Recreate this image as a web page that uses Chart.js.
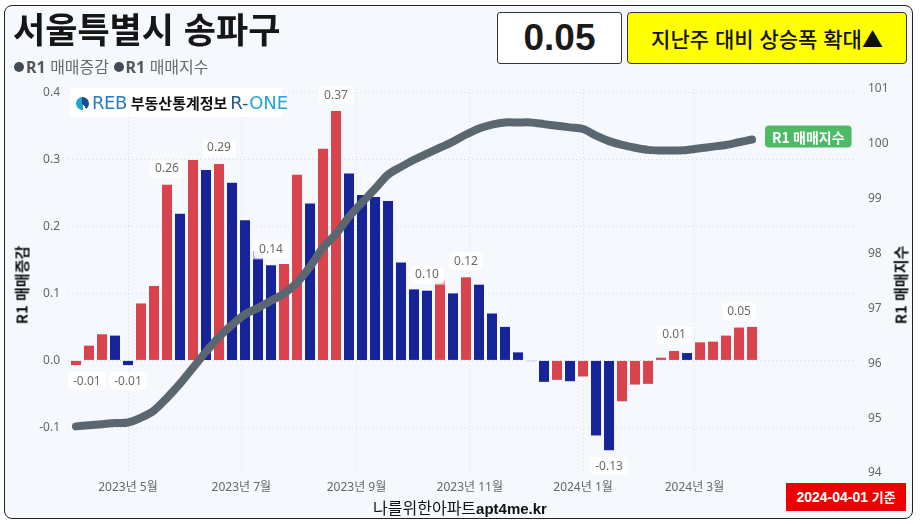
<!DOCTYPE html>
<html lang="ko">
<head>
<meta charset="utf-8">
<title>서울특별시 송파구</title>
<script src="https://cdn.jsdelivr.net/npm/chart.js@4.4.1/dist/chart.umd.min.js"></script>
<style>
  html, body { margin: 0; padding: 0; background: #fff; }
  #wrap { position: relative; width: 920px; height: 524px; overflow: hidden; font-family: 'Noto Sans CJK KR', 'Noto Sans', sans-serif; }
  #card { position: absolute; left: 4px; top: 5px; width: 907px; height: 512px; border: 1px solid #222; border-radius: 8px; background: #f5f8fc; }
  #chart { position: absolute; left: 0; top: 0; }
  .abs { position: absolute; white-space: nowrap; }
  #title { left: 13px; top: 6px; font-size: 35px; font-weight: 700; color: #161616; line-height: 44px; }
  #legend { left: 14px; top: 55px; font-size: 16px; color: #6a6a6a; line-height: 22px; }
  #legend b { font-family: 'Noto Sans', sans-serif; color: #555; }
  .dot { display: inline-block; width: 10px; height: 10px; border-radius: 50%; background: #434c55; margin-right: 2px; vertical-align: 1px; }
  #value { left: 497px; top: 12px; width: 125px; height: 52px; box-sizing: border-box; border: 1px solid #333; border-radius: 3px; background: #fff;
           font-family: 'Liberation Sans', sans-serif; font-weight: 700; font-size: 37px; color: #1a1a1a; text-align: center; line-height: 50px; }
  #note { left: 627px; top: 12px; width: 280px; height: 52px; box-sizing: border-box; border: 1px solid #333; border-radius: 4px; background: #ffff00;
          font-size: 21px; font-weight: 500; color: #111; text-align: center; line-height: 50px; }
  #logo { left: 70px; top: 88px; width: 212px; height: 29px; background: #fff; border-radius: 2px; line-height: 29px; font-size: 15px; }
  #logo .ic { display: inline-block; width: 13px; height: 13px; border-radius: 50%; margin: 0 3px 0 6px; vertical-align: -1px;
              background: conic-gradient(#1b4e86 0 40%, #fff 40% 50%, #1fa2d6 50% 100%); }
  #logo .reb { font-family: 'DejaVu Sans', sans-serif; font-size: 18px; color: #2a7bc2; letter-spacing: -0.5px; }
  #logo .ko { font-weight: 700; color: #111; margin-left: 4px; }
  #logo .one { font-family: 'DejaVu Sans', sans-serif; font-size: 18px; color: #22a5d8; margin-left: 3px; }
  #logo .one span { color: #1d5a92; }
  .ytitle { font-size: 15px; font-weight: 700; color: #111; transform: translate(-50%, -50%) rotate(-90deg); }
  #ytl { left: 21px; top: 285px; }
  #ytr { left: 900px; top: 285px; }
  #credit { left: 460px; top: 507px; transform: translate(-50%, -50%); font-size: 16px; color: #111; }
  #credit b { font-family: 'Liberation Sans Narrow', 'Liberation Sans', sans-serif; font-size: 15px; }
  #date { left: 786px; top: 483px; width: 120px; height: 28px; background: #ee0000; color: #fff; font-weight: 700; font-size: 13px; text-align: center; line-height: 28px; }
  #date b { font-family: 'Liberation Sans Narrow', 'Liberation Sans', sans-serif; font-size: 14px; }
</style>
</head>
<body>
<div id="wrap">
  <div id="card"></div>
  <canvas id="chart" width="920" height="524"></canvas>
  <div class="abs" id="title">서울특별시 송파구</div>
  <div class="abs" id="legend"><span class="dot"></span><b>R1</b> 매매증감 <span class="dot"></span><b>R1</b> 매매지수</div>
  <div class="abs" id="value">0.05</div>
  <div class="abs" id="note">지난주 대비 상승폭 확대▲</div>
  <div class="abs" id="logo"><span class="ic"></span><span class="reb">REB</span><span class="ko">부동산통계정보</span><span class="one"><span>R-</span>ONE</span></div>
  <div class="abs ytitle" id="ytl">R1 매매증감</div>
  <div class="abs ytitle" id="ytr">R1 매매지수</div>
  <div class="abs" id="credit">나를위한아파트<b>apt4me.kr</b></div>
  <div class="abs" id="date"><b>2024-04-01</b> 기준</div>
</div>
<script>
"use strict";

// weekly survey dates (Mon)
var weeks = [
    "2023-04-03", "2023-04-10", "2023-04-17", "2023-04-24", "2023-05-01", "2023-05-08", "2023-05-15", "2023-05-22", "2023-05-29",
    "2023-06-05", "2023-06-12", "2023-06-19", "2023-06-26", "2023-07-03", "2023-07-10", "2023-07-17", "2023-07-24", "2023-07-31",
    "2023-08-07", "2023-08-14", "2023-08-21", "2023-08-28", "2023-09-04", "2023-09-11", "2023-09-18", "2023-09-25", "2023-10-02",
    "2023-10-09", "2023-10-16", "2023-10-23", "2023-10-30", "2023-11-06", "2023-11-13", "2023-11-20", "2023-11-27", "2023-12-04",
    "2023-12-11", "2023-12-18", "2023-12-25", "2024-01-01", "2024-01-08", "2024-01-15", "2024-01-22", "2024-01-29", "2024-02-05",
    "2024-02-12", "2024-02-19", "2024-02-26", "2024-03-04", "2024-03-11", "2024-03-18", "2024-03-25", "2024-04-01"
];

// R1 매매증감 (%)
var weeklyChange = [
    -0.007, 0.022, 0.039, 0.037, -0.007, 0.085, 0.111, 0.262, 0.219, 0.299,
    0.284, 0.293, 0.265, 0.209, 0.151, 0.142, 0.144, 0.277, 0.234, 0.316,
    0.372, 0.279, 0.247, 0.244, 0.238, 0.146, 0.106, 0.104, 0.113, 0.100,
    0.124, 0.113, 0.070, 0.050, 0.012, -0.001, -0.032, -0.029, -0.031, -0.024,
    -0.112, -0.134, -0.061, -0.036, -0.035, 0.004, 0.014, 0.011, 0.027, 0.028,
    0.037, 0.049, 0.050
];

// R1 매매지수
var priceIndex = [
    94.85, 94.87, 94.89, 94.91, 94.92, 95.01, 95.14, 95.37, 95.63, 95.92,
    96.21, 96.48, 96.70, 96.89, 97.01, 97.14, 97.27, 97.47, 97.76, 98.11,
    98.36, 98.67, 98.93, 99.18, 99.44, 99.58, 99.71, 99.82, 99.93, 100.04,
    100.17, 100.28, 100.35, 100.39, 100.39, 100.39, 100.36, 100.33, 100.30, 100.27,
    100.15, 100.05, 99.98, 99.93, 99.89, 99.88, 99.88, 99.89, 99.92, 99.95,
    99.98, 100.03, 100.08
];

// pale caps shown on two bars in the original
var capWeeks = [14, 28];
var capLow = [0.151, 0.113];
var capHigh = [0.163, 0.119];

// weeks that carry a value label
var labelWeeks = [0, 4, 7, 11, 15, 20, 27, 30, 41, 46, 51];

// axis ticks
var monthTickDates = ["2023-05-01", "2023-07-01", "2023-09-01", "2023-11-01", "2024-01-01", "2024-03-01"];
var monthTickLabels = ["2023년 5월", "2023년 7월", "2023년 9월", "2023년 11월", "2024년 1월", "2024년 3월"];
var changeTicks = [-0.1, 0.0, 0.1, 0.2, 0.3, 0.4];

var RED = "#d8434e";
var BLUE = "#172499";
var RED_PALE = "#f0a3aa";
var BLUE_PALE = "#aeb4dc";

function dayOf(d) {
    return (Date.parse(d) - Date.parse(weeks[0])) / 86400000;
}

function isUp(i) {
    return i === 0 || weeklyChange[i] >= weeklyChange[i - 1];
}

var barPoints = weeks.map(function (d, i) { return { x: dayOf(d), y: weeklyChange[i] }; });
var linePoints = weeks.map(function (d, i) { return { x: dayOf(d), y: priceIndex[i] }; });
var capPoints = capWeeks.map(function (w, k) { return { x: dayOf(weeks[w]), y: [capLow[k], capHigh[k]] }; });
// red when the change went up from the week before, blue when it went down
var barColors = weeklyChange.map(function (v, i) { return isUp(i) ? RED : BLUE; });
var capColors = capWeeks.map(function (w) { return isUp(w) ? RED_PALE : BLUE_PALE; });

function roundRect(c, x, y, w, h, r) {
    c.beginPath();
    c.moveTo(x + r, y);
    c.arcTo(x + w, y, x + w, y + h, r);
    c.arcTo(x + w, y + h, x, y + h, r);
    c.arcTo(x, y + h, x, y, r);
    c.arcTo(x, y, x + w, y, r);
    c.closePath();
}

// fixed axis sizes so the plot area lands where the original has it
function fixSize(w, h) {
    return function (s) {
        if (w) s.width = w;
        if (h) s.height = h;
        s.paddingLeft = 0;
        s.paddingRight = 0;
        s.paddingTop = 0;
        s.paddingBottom = 0;
    };
}

var labelPlugin = {
    id: "valueLabels",
    afterDatasetsDraw: function (chart) {
        var c = chart.ctx;
        var area = chart.chartArea;
        var bars = chart.getDatasetMeta(1).data;
        c.save();
        c.font = "12px 'Noto Sans', sans-serif";
        c.textAlign = "center";
        c.textBaseline = "middle";
        labelWeeks.forEach(function (i) {
            var v = weeklyChange[i];
            var text = v.toFixed(2);
            var w = c.measureText(text).width + 10;
            var h = 18;
            var cx = Math.max(bars[i].x, area.left + w / 2);
            var cy = v >= 0 ? bars[i].y - 16 : bars[i].y + 16;
            c.fillStyle = "rgba(255,255,255,0.85)";
            roundRect(c, cx - w / 2, cy - h / 2, w, h, 3);
            c.fill();
            c.fillStyle = "#6b6b6b";
            c.fillText(text, cx, cy);
        });

        // tag at the end of the index line
        var pts = chart.getDatasetMeta(0).data;
        var last = pts[pts.length - 1];
        var tx = last.x + 13, ty = last.y - 3;
        c.font = "bold 14px 'Noto Sans CJK KR', sans-serif";
        var tw = c.measureText("R1 매매지수").width + 14;
        c.fillStyle = "#4dbb66";
        roundRect(c, tx, ty - 11, tw, 22, 4);
        c.fill();
        c.fillStyle = "#fff";
        c.textAlign = "left";
        c.fillText("R1 매매지수", tx + 7, ty + 1);
        c.restore();
    }
};

Chart.defaults.font.family = "'Noto Sans', 'Noto Sans CJK KR', sans-serif";

var ctx = document.getElementById("chart").getContext("2d");
var myChart = new Chart(ctx, {
    type: "bar",
    data: {
        datasets: [{
                type: "line",
                label: "R1 매매지수",
                yAxisID: "y1",
                data: linePoints,
                borderColor: "#5b6770",
                borderWidth: 8,
                pointRadius: 0,
                tension: 0.3,
                borderCapStyle: "round",
                borderJoinStyle: "round",
                order: 0
            },
            {
                type: "bar",
                label: "R1 매매증감",
                yAxisID: "y",
                data: barPoints,
                backgroundColor: barColors,
                barPercentage: 0.77,
                categoryPercentage: 1,
                order: 1
            },
            {
                type: "bar",
                label: "cap",
                yAxisID: "y",
                data: capPoints,
                backgroundColor: capColors,
                barPercentage: 0.77,
                categoryPercentage: 1,
                grouped: false,
                order: 2
            }
        ]
    },
    options: {
        responsive: false,
        animation: false,
        layout: { padding: { top: 89, left: 0, right: 0, bottom: 0 } },
        plugins: {
            legend: { display: false },
            tooltip: { enabled: false }
        },
        scales: {
            x: {
                type: "linear",
                offset: false,
                min: -4.31,
                max: 418.9,
                afterBuildTicks: function (s) {
                    s.ticks = monthTickDates.map(function (d) { return { value: dayOf(d) }; });
                },
                afterFit: fixSize(0, 51),
                grid: { color: "#d3d9e0", drawTicks: false, offset: false },
                border: { display: false, dash: [1, 3] },
                ticks: {
                    padding: 7,
                    color: "#666",
                    font: { size: 12 },
                    maxRotation: 0,
                    autoSkip: false,
                    callback: function (v, i) { return monthTickLabels[i]; }
                }
            },
            y: {
                position: "left",
                min: -0.168,
                max: 0.405,
                afterBuildTicks: function (s) {
                    s.ticks = changeTicks.map(function (v) { return { value: v }; });
                },
                afterFit: fixSize(68, 0),
                grid: { color: "#d3d9e0", drawTicks: false },
                border: { display: false, dash: [1, 3] },
                ticks: {
                    padding: 8,
                    color: "#666",
                    font: { size: 12 },
                    callback: function (v) { return v.toFixed(1); }
                }
            },
            y1: {
                position: "right",
                min: 94,
                max: 101,
                afterFit: fixSize(66, 0),
                grid: { display: false },
                border: { display: false },
                ticks: {
                    stepSize: 1,
                    padding: 6,
                    color: "#666",
                    font: { size: 12 }
                }
            }
        }
    },
    plugins: [labelPlugin]
});
</script>
</body>
</html>
